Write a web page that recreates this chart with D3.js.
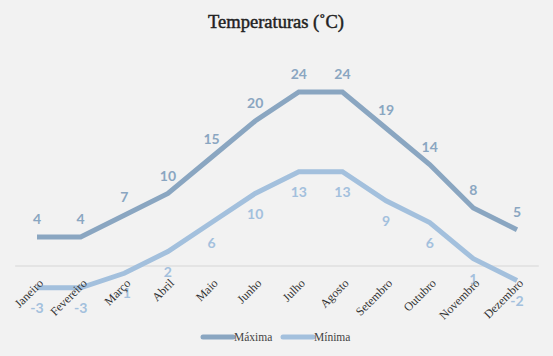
<!DOCTYPE html>
<html><head><meta charset="utf-8">
<script src="https://cdn.jsdelivr.net/npm/d3@7"></script>
<style>html,body{margin:0;padding:0;background:#f2f2f2;}svg{display:block;}</style>
</head><body>
<script>
const months = ["Janeiro","Fevereiro","Março","Abril","Maio","Junho","Julho","Agosto","Setembro","Outubro","Novembro","Dezembro"];
const maxima = [4,4,7,10,15,20,24,24,19,14,8,5];
const minima = [-3,-3,-1,2,6,10,13,13,9,6,1,-2];
const seriesNames = ["Máxima","Mínima"];
const colors = ["#8aa6c1","#a3c0dd"];

const W = 553, H = 356;
const svg = d3.select("body").append("svg").attr("width", W).attr("height", H);
svg.append("rect").attr("width", W).attr("height", H).attr("fill", "#f2f2f2");

const x = d3.scaleBand().domain(months).range([15.2, 538.8]);
const y = d3.scaleLinear().domain([0, 24]).range([266, 92]);
const cx = m => x(m) + x.bandwidth() / 2;

svg.append("text").attr("x", 276).attr("y", 28).attr("text-anchor", "middle")
  .attr("font-family", "Liberation Serif, serif").attr("font-size", 18.5)
  .attr("fill", "#222").attr("stroke", "#222").attr("stroke-width", 0.45)
  .text("Temperaturas (˚C)");

// zero line
svg.append("line").attr("x1", x.range()[0]).attr("x2", x.range()[1])
  .attr("y1", y(0)).attr("y2", y(0)).attr("stroke", "#d6d6d6").attr("stroke-width", 1);

const line = d3.line().x((d, i) => cx(months[i])).y(d => y(d));
[maxima, minima].forEach((s, k) => {
  svg.append("path").datum(s).attr("d", line).attr("fill", "none")
    .attr("stroke", colors[k]).attr("stroke-width", 5).attr("stroke-linejoin", "miter").attr("stroke-linecap", "butt");
});

// labels
svg.selectAll(".lmax").data(maxima).enter().append("text")
  .attr("x", (d, i) => cx(months[i])).attr("y", d => y(d) - 13)
  .attr("text-anchor", "middle").attr("font-family", "Lato, sans-serif").attr("font-weight", "bold")
  .attr("font-size", 14).attr("fill", "#8aa6c1").text(d => d);
svg.selectAll(".lmin").data(minima).enter().append("text")
  .attr("x", (d, i) => cx(months[i])).attr("y", d => y(d) + 25)
  .attr("text-anchor", "middle").attr("font-family", "Lato, sans-serif").attr("font-weight", "bold")
  .attr("font-size", 14).attr("fill", "#a3c0dd").text(d => d);

// x axis labels
const ax = svg.append("g").attr("transform", `translate(0,${y(0)})`)
  .call(d3.axisBottom(x).tickSize(0).tickPadding(0));
ax.select(".domain").remove();
ax.selectAll("text")
  .attr("font-family", "Liberation Serif, serif").attr("font-size", 12).attr("fill", "#333")
  .attr("text-anchor", "end").attr("dy", null).attr("y", 0)
  .attr("transform", "translate(7,18) rotate(-45)");

// legend
const lg = svg.append("g");
const lx = [203, 283];
seriesNames.forEach((n, k) => {
  lg.append("line").attr("x1", lx[k]).attr("x2", lx[k] + 30).attr("y1", 337).attr("y2", 337)
    .attr("stroke", colors[k]).attr("stroke-width", 5).attr("stroke-linecap", "round");
  lg.append("text").attr("x", lx[k] + 31).attr("y", 341).attr("font-family", "Liberation Serif, serif")
    .attr("font-size", 11.5).attr("fill", "#444").text(n);
});
</script>
</body></html>
